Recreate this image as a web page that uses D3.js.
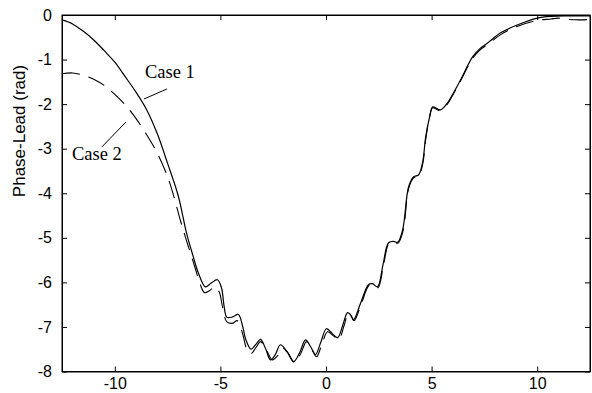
<!DOCTYPE html>
<html>
<head>
<meta charset="utf-8">
<script src="https://cdn.jsdelivr.net/npm/d3@7/dist/d3.min.js"></script>
<style>
  html, body { margin: 0; padding: 0; background: #fff; }
  svg { display: block; }
</style>
</head>
<body>
<svg id="chart" width="592" height="393"></svg>
<script>
// ---- data ----
const case1X = [-12.5,-12.0,-11.5,-11.0,-10.5,-10.0,-9.5,-9.0,-8.5,-8.0,-7.5,-7.0,-6.6,-6.3,-6.05,
  -5.71,-5.45,-5.14,-4.95,-4.82,-4.70,-4.45,-4.15,-3.95,-3.80,-3.55,-3.30,-3.10,-2.85,-2.63,-2.40,-2.16,
  -1.85,-1.54,-1.25,-0.97,-0.72,-0.50,-0.25,0.02,0.30,0.55,0.80,1.02,1.15,1.30,1.65,2.01,2.20,2.44,2.70,
  2.96,3.20,3.39,3.63,3.91,4.15,4.38,4.57,4.72,4.90,5.05,5.25,5.43,5.76,6.0,6.37,6.94,7.30,7.65,8.27,
  9.08,10.0,10.64,11.5,12.5];
const case1Y = [-0.11,-0.20,-0.36,-0.56,-0.80,-1.06,-1.39,-1.73,-2.12,-2.65,-3.33,-4.05,-4.90,-5.40,-5.78,
  -6.10,-6.02,-5.94,-6.12,-6.55,-6.78,-6.78,-6.72,-6.98,-7.28,-7.50,-7.38,-7.28,-7.50,-7.74,-7.62,-7.40,
  -7.55,-7.78,-7.58,-7.29,-7.45,-7.62,-7.35,-7.04,-7.15,-7.24,-6.95,-6.68,-6.72,-6.84,-6.45,-6.05,-6.03,-6.10,-5.60,
  -5.11,-5.08,-5.10,-4.82,-3.86,-3.63,-3.59,-3.32,-2.74,-2.30,-2.06,-2.10,-2.13,-1.97,-1.78,-1.46,-0.94,-0.75,-0.63,-0.40,
  -0.22,-0.07,-0.03,-0.02,-0.02];

const case2X = [-12.5,-12.0,-11.5,-11.0,-10.5,-10.0,-9.5,-9.0,-8.5,-8.0,-7.5,-7.2,-6.9,-6.66,-6.42,-6.18,-5.95,
  -5.75,-5.50,-5.24,-5.05,-4.90,-4.70,-4.45,-4.19,-3.95,-3.75,-3.55,-3.30,-3.10,-2.82,-2.54,-2.30,-2.06,
  -1.78,-1.49,-1.20,-0.92,-0.68,-0.45,-0.20,0.07,0.35,0.60,0.85,1.05,1.18,1.33,1.68,2.03,2.22,2.46,2.72,
  2.98,3.20,3.41,3.65,3.92,4.16,4.39,4.58,4.73,4.90,5.05,5.25,5.43,5.76,6.0,6.37,6.94,7.30,7.65,8.27,
  9.08,10.0,10.64,11.0,11.5,12.0,12.5];
const case2Y = [-1.32,-1.30,-1.35,-1.44,-1.58,-1.78,-2.02,-2.32,-2.68,-3.09,-3.63,-4.08,-4.60,-4.98,-5.34,-5.70,-6.05,
  -6.23,-6.18,-6.10,-6.22,-6.55,-6.88,-6.92,-6.86,-7.15,-7.50,-7.60,-7.45,-7.33,-7.52,-7.74,-7.65,-7.47,
  -7.60,-7.80,-7.60,-7.33,-7.48,-7.67,-7.40,-7.11,-7.20,-7.28,-6.98,-6.70,-6.74,-6.86,-6.47,-6.07,-6.05,-6.12,-5.62,
  -5.13,-5.10,-5.12,-4.84,-3.88,-3.65,-3.61,-3.34,-2.76,-2.30,-2.08,-2.12,-2.14,-1.99,-1.80,-1.48,-0.97,-0.78,-0.66,-0.44,
  -0.25,-0.12,-0.09,-0.07,-0.10,-0.11,-0.10];

const xTicks = [-10, -5, 0, 5, 10];
const yTicks = [0, -1, -2, -3, -4, -5, -6, -7, -8];
const xDomain = [-12.5, 12.5];
const yDomain = [-8, 0];
const yLabel = "Phase-Lead (rad)";
const labels = [
  { text: "Case 1", tx: -8.57, ty: -1.41, x1: -8.62, y1: -1.885, x2: -7.53, y2: -1.66 },
  { text: "Case 2", tx: -12.03, ty: -3.25, x1: -10.61, y1: -2.96, x2: -9.47, y2: -2.40 }
];

// ---- layout ----
const mLeft = 62, mRight = 590, mTop = 15, mBottom = 371.5;
const svg = d3.select("#chart");
const x = d3.scaleLinear().domain(xDomain).range([mLeft, mRight]);
const y = d3.scaleLinear().domain(yDomain).range([mBottom, mTop]);
const fmt = d => String(d);
const tickFont = "'Liberation Sans', Arial, sans-serif";

// frame
svg.append("rect").attr("x", mLeft).attr("y", mTop).attr("width", mRight - mLeft).attr("height", mBottom - mTop)
  .attr("fill", "none").attr("stroke", "#000").attr("stroke-width", 1);

const gx = svg.append("g").attr("transform", `translate(0,${mBottom})`)
  .call(d3.axisBottom(x).tickValues(xTicks).tickFormat(fmt).tickSizeInner(-5).tickSizeOuter(0).tickPadding(6));
const gy = svg.append("g").attr("transform", `translate(${mLeft},0)`)
  .call(d3.axisLeft(y).tickValues(yTicks).tickFormat(fmt).tickSizeInner(-5).tickSizeOuter(0).tickPadding(10));
const gt = svg.append("g").attr("transform", `translate(0,${mTop})`)
  .call(d3.axisTop(x).tickValues(xTicks).tickFormat("").tickSizeInner(-5).tickSizeOuter(0));
const gr = svg.append("g").attr("transform", `translate(${mRight},0)`)
  .call(d3.axisRight(y).tickValues(yTicks).tickFormat("").tickSizeInner(-5).tickSizeOuter(0));

[gx, gy, gt, gr].forEach(g => {
  g.select(".domain").attr("stroke", "#000");
  g.selectAll(".tick line").attr("stroke", "#000");
  g.selectAll(".tick text").attr("fill", "#000").style("font-family", tickFont).style("font-size", "16px");
});

// y label
svg.append("text")
  .attr("transform", `translate(25,131) rotate(-90)`)
  .attr("text-anchor", "middle")
  .style("font-family", tickFont).style("font-size", "17px")
  .attr("fill", "#000")
  .text(yLabel);

// lines
const line = d3.line().x(d => x(d[0])).y(d => y(d[1])).curve(d3.curveCatmullRom.alpha(0.5));
const d1 = case1X.map((v, i) => [v, case1Y[i]]);
const d2 = case2X.map((v, i) => [v, case2Y[i]]);

svg.append("path").datum(d2).attr("d", line)
  .attr("fill", "none").attr("stroke", "#000").attr("stroke-width", 1.1)
  .attr("stroke-dasharray", "18,9");
svg.append("path").datum(d1).attr("d", line)
  .attr("fill", "none").attr("stroke", "#000").attr("stroke-width", 1.2);

// annotations
labels.forEach(l => {
  svg.append("line").attr("x1", x(l.x1)).attr("y1", y(l.y1)).attr("x2", x(l.x2)).attr("y2", y(l.y2))
    .attr("stroke", "#000").attr("stroke-width", 1);
  svg.append("text").attr("x", x(l.tx)).attr("y", y(l.ty))
    .style("font-family", "'Liberation Serif', 'Times New Roman', serif").style("font-size", "18.5px")
    .attr("fill", "#000").text(l.text);
});
</script>
</body>
</html>
